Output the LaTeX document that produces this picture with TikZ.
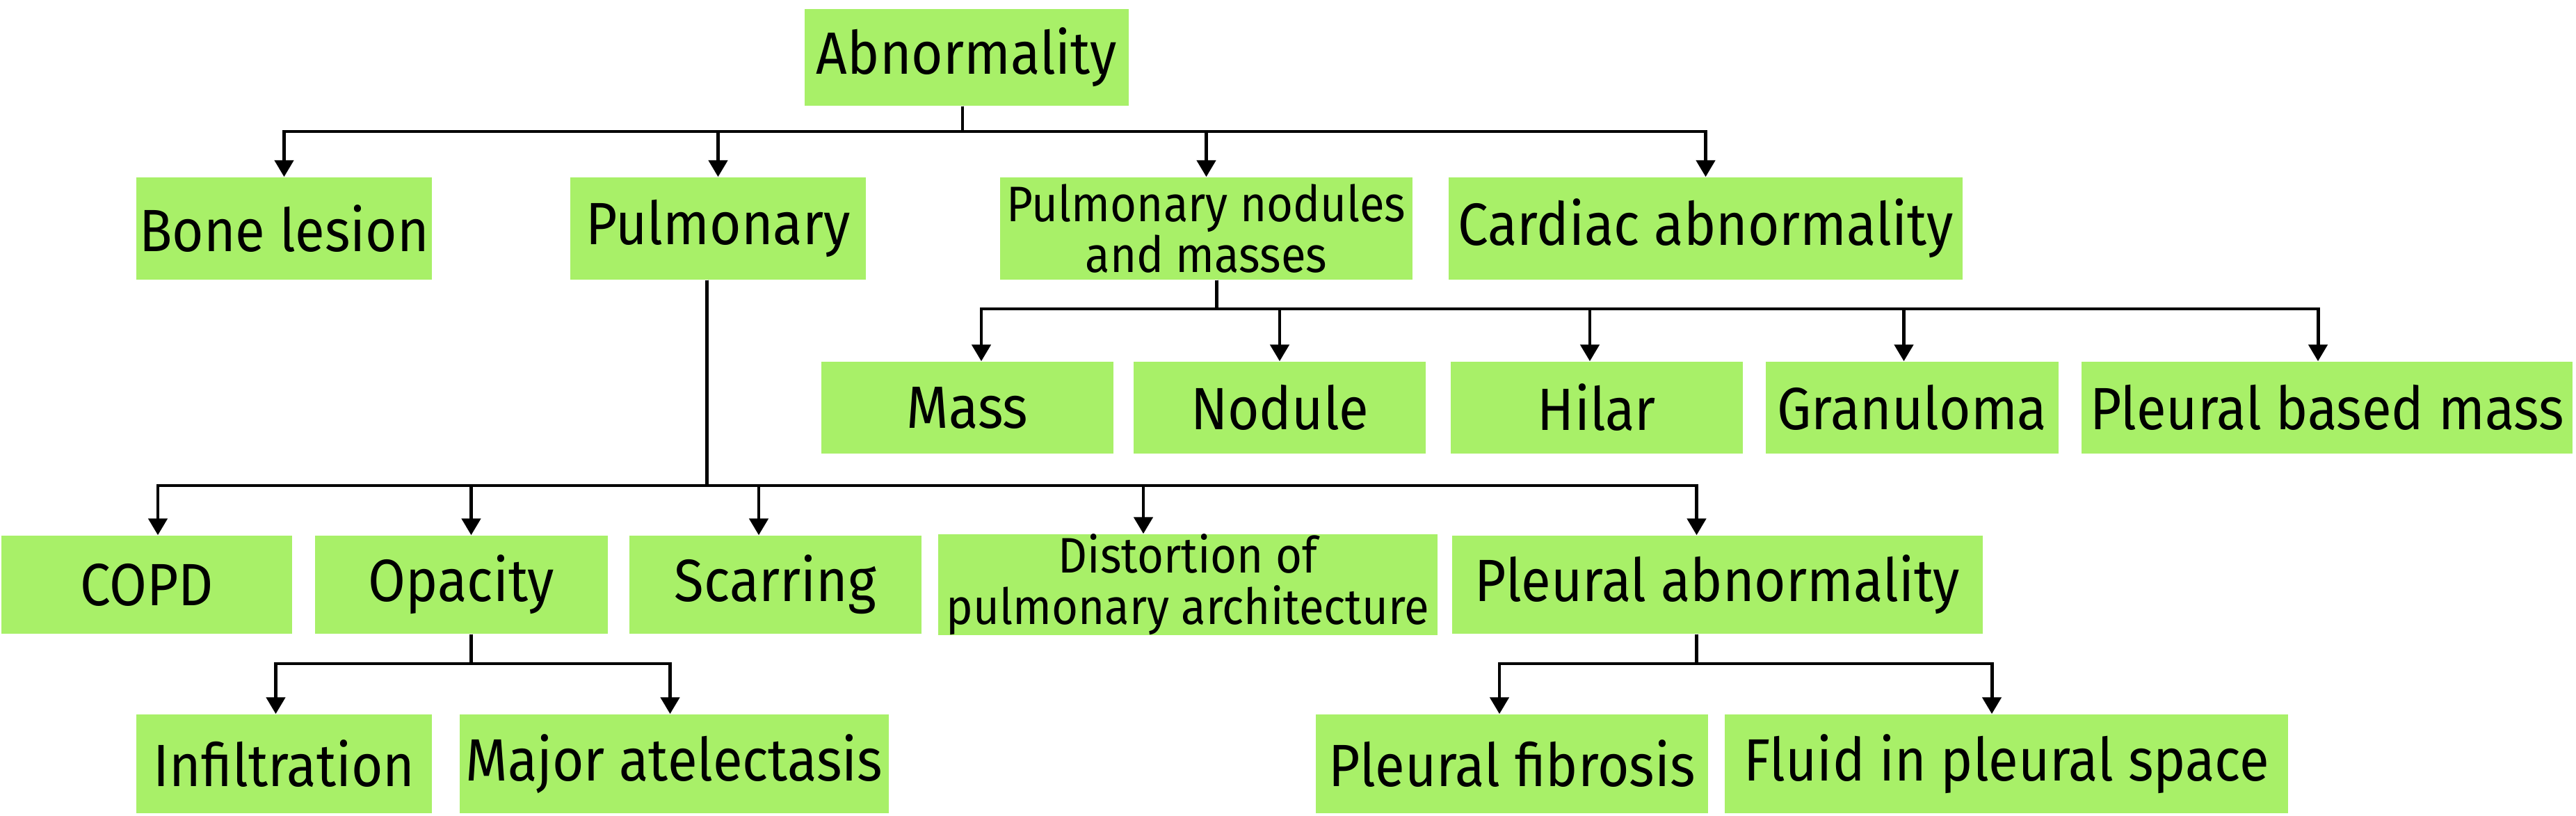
\documentclass[tikz,border=0pt]{standalone}
\usepackage{fontspec}
\setmainfont{Fira Sans}[FakeStretch=0.91]
\usetikzlibrary{arrows.meta}
\definecolor{boxgreen}{RGB}{168,240,104}

\tikzset{
  catbox/.style={fill=boxgreen, inner sep=0pt, align=center,
    font=\fontsize{24.4}{28}\selectfont},
  smallbox/.style={catbox, font=\fontsize{20.4}{21}\selectfont},
  arr/.style={-{Triangle[length=2.4mm,width=2.7mm]}, line width=1.4pt}
}

\begin{document}
\begin{tikzpicture}
  \useasboundingbox (0,0) rectangle (37.04,11.72);

  % Top
  \node[catbox, minimum width=4.66cm, minimum height=1.39cm] (abn) at (13.90,10.895) {Abnormality};

  % First level
  \node[catbox, minimum width=4.25cm, minimum height=1.47cm] (bone) at (4.085,8.435) {Bone lesion};
  \node[catbox, minimum width=4.25cm, minimum height=1.47cm] (pulm) at (10.325,8.435) {Pulmonary};
  \node[smallbox, minimum width=5.93cm, minimum height=1.47cm] (nodmass) at (17.345,8.435) {Pulmonary nodules\\and masses};
  \node[catbox, minimum width=7.39cm, minimum height=1.47cm] (cardiac) at (24.525,8.435) {Cardiac abnormality};

  % Nodules and masses
  \node[catbox, minimum width=4.20cm, minimum height=1.32cm] (mass) at (13.91,5.86) {Mass};
  \node[catbox, minimum width=4.20cm, minimum height=1.32cm] (nodule) at (18.40,5.86) {Nodule};
  \node[catbox, minimum width=4.20cm, minimum height=1.32cm] (hilar) at (22.96,5.86) {Hilar};
  \node[catbox, minimum width=4.21cm, minimum height=1.32cm] (granuloma) at (27.495,5.86) {Granuloma};
  \node[catbox, minimum width=7.06cm, minimum height=1.32cm] (plmass) at (33.46,5.86) {Pleural based mass};

  % Pulmonary
  \node[catbox, minimum width=4.18cm, minimum height=1.41cm] (copd) at (2.11,3.315) {COPD};
  \node[catbox, minimum width=4.21cm, minimum height=1.41cm] (opacity) at (6.635,3.315) {Opacity};
  \node[catbox, minimum width=4.20cm, minimum height=1.41cm] (scarring) at (11.15,3.315) {Scarring};
  \node[smallbox, minimum width=7.18cm, minimum height=1.41cm] (distort) at (17.08,3.315) {Distortion of\\pulmonary architecture};
  \node[catbox, minimum width=7.63cm, minimum height=1.41cm] (plabn) at (24.695,3.315) {Pleural abnormality};

  % Bottom
  \node[catbox, minimum width=4.25cm, minimum height=1.42cm] (infil) at (4.085,0.74) {Infiltration};
  \node[catbox, minimum width=6.17cm, minimum height=1.42cm] (atel) at (9.695,0.74) {Major atelectasis};
  \node[catbox, minimum width=5.64cm, minimum height=1.42cm] (fibrosis) at (21.74,0.74) {Pleural fibrosis};
  \node[catbox, minimum width=8.10cm, minimum height=1.42cm] (fluid) at (28.85,0.74) {Fluid in pleural space};

  % Bus heights
  \coordinate (bus0) at (0,9.83);
  \coordinate (bus1) at (0,7.28);
  \coordinate (bus2) at (0,4.74);
  \coordinate (bus3) at (0,2.18);

  % Connectors
  \foreach \kid in {bone,pulm,nodmass,cardiac}
    \draw[arr] ([xshift=-0.06cm]abn.south) -- ([xshift=-0.06cm]abn.south |- bus0) -| (\kid.north);
  \foreach \kid/\dx in {mass/0.2,nodule/0,hilar/-0.1,granuloma/-0.12,plmass/-0.13}
    \draw[arr] ([xshift=0.15cm]nodmass.south) -- ([xshift=0.15cm]nodmass.south |- bus1) -| ([xshift=\dx cm]\kid.north);
  \foreach \kid/\dx in {copd/0.16,opacity/0.14,scarring/-0.24,distort/-0.64,plabn/-0.3}
    \draw[arr] ([xshift=-0.16cm]pulm.south) -- ([xshift=-0.16cm]pulm.south |- bus2) -| ([xshift=\dx cm]\kid.north);
  \foreach \kid/\dx in {infil/-0.12,atel/-0.06}
    \draw[arr] ([xshift=0.14cm]opacity.south) -- ([xshift=0.14cm]opacity.south |- bus3) -| ([xshift=\dx cm]\kid.north);
  \foreach \kid/\dx in {fibrosis/-0.18,fluid/-0.21}
    \draw[arr] ([xshift=-0.3cm]plabn.south) -- ([xshift=-0.3cm]plabn.south |- bus3) -| ([xshift=\dx cm]\kid.north);
\end{tikzpicture}
\end{document}
